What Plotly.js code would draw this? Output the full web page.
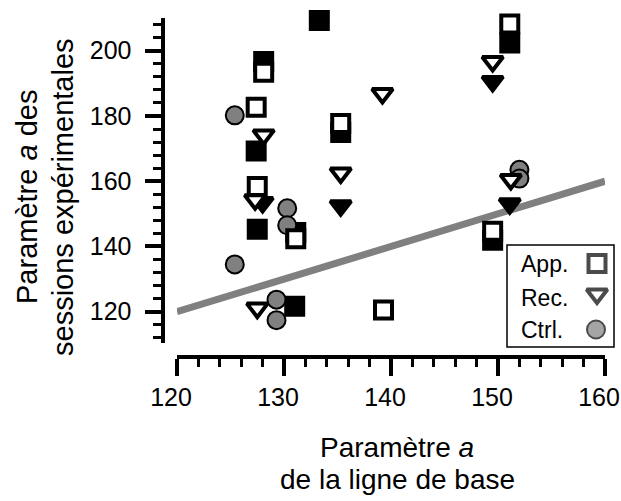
<!DOCTYPE html>
<html>
<head>
<meta charset="utf-8">
<script src="https://cdn.plot.ly/plotly-3.0.1.min.js"></script>
<style>html,body{margin:0;padding:0;background:#fff;}#chart{width:621px;height:501px;}</style>
</head>
<body>
<div id="chart"></div>
<script>
// ---- data ----
const appOpenX = [128.1, 127.4, 127.5, 131.1, 135.3, 139.3, 151.1, 149.5];
const appOpenY = [193.4, 182.7, 158.4, 142.4, 177.7, 120.5, 208.2, 144.7];
const appFillX = [128.1, 127.4, 127.5, 131.1, 131.0, 133.3, 135.3, 151.1, 149.5];
const appFillY = [196.7, 169.3, 145.3, 144.3, 121.7, 209.3, 174.9, 202.4, 141.9];
const recOpenX = [128.1, 127.3, 127.5, 139.2, 135.3, 149.5, 151.2];
const recOpenY = [174.2, 154.3, 121.1, 186.9, 162.5, 196.7, 160.5];
const recFillX = [128.0, 135.3, 149.5, 151.1];
const recFillY = [153.5, 152.5, 190.6, 153.1];
const ctrlX = [125.4, 125.4, 130.3, 130.3, 129.3, 129.3, 152.0, 152.0];
const ctrlY = [180.2, 134.5, 151.7, 146.5, 123.7, 117.4, 163.5, 160.8];
const fitX = [120, 160];
const fitY = [120, 160];
const legendLabels = ["App.", "Rec.", "Ctrl."];
const xTitle = ["Paramètre <i>a</i>", "de la ligne de base"];
const yTitle = ["Paramètre <i>a</i> des", "sessions expérimentales"];

// ---- styling / layout ----
const W = 621, H = 501;
const FONT = "Liberation Sans, Arial, sans-serif";
const LW = 4;
const TRI = 18;
const sq = (fill) => ({symbol: 'square', size: 17, color: fill, line: {color: 'black', width: LW}});
const tri = (fill) => ({symbol: 'triangle-down', size: TRI, color: fill, line: {color: 'black', width: LW}});
const circ = {symbol: 'circle', size: 18, color: '#808080', line: {color: 'black', width: 2}};

const traces = [
  {x: fitX, y: fitY, mode: 'lines', line: {color: '#808080', width: 7}, hoverinfo: 'skip'},
  {x: appFillX, y: appFillY, mode: 'markers', marker: sq('black'), cliponaxis: false},
  {x: recFillX, y: recFillY, mode: 'markers', marker: tri('black'), cliponaxis: false},
  {x: ctrlX, y: ctrlY, mode: 'markers', marker: circ, cliponaxis: false},
  {x: recOpenX, y: recOpenY, mode: 'markers', marker: tri('white'), cliponaxis: false},
  {x: appOpenX, y: appOpenY, mode: 'markers', marker: sq('white'), cliponaxis: false},
  // legend key markers (pixel space overlay)
  {x: [597, 597, 596], y: [263.5, 294, 329.5], xaxis: 'x2', yaxis: 'y2', mode: 'markers', cliponaxis: false,
   marker: {symbol: ['square', 'triangle-down', 'circle'], size: [17, TRI, 18], color: ['white', 'white', '#808080'],
            line: {color: 'black', width: [LW, LW, 2]}}}
];

const px = (v) => v / W, py = (v) => 1 - v / H;

const commonAxis = {
  showline: true, linewidth: LW, linecolor: 'black', ticks: 'outside', tickwidth: LW, tickcolor: 'black',
  showgrid: false, zeroline: false, tickfont: {family: FONT, size: 25, color: 'black'}, fixedrange: true,
  ticklabeloverflow: 'allow'
};

const annotations = [];
legendLabels.forEach((t, i) => {
  annotations.push({xref: 'x2', yref: 'y2', x: 519, y: [264, 298, 330][i], text: t, showarrow: false,
    xanchor: 'left', yanchor: 'middle', font: {family: FONT, size: 23, color: 'black'}});
});
annotations.push({xref: 'x2', yref: 'y2', x: 397, y: 447, text: xTitle[0], showarrow: false,
  xanchor: 'center', yanchor: 'middle', font: {family: FONT, size: 28, color: 'black'}});
annotations.push({xref: 'x2', yref: 'y2', x: 397, y: 479, text: xTitle[1], showarrow: false,
  xanchor: 'center', yanchor: 'middle', font: {family: FONT, size: 28, color: 'black'}});
annotations.push({xref: 'x2', yref: 'y2', x: 27, y: 197, text: yTitle[0], showarrow: false, textangle: -90,
  xanchor: 'center', yanchor: 'middle', font: {family: FONT, size: 29, color: 'black'}});
annotations.push({xref: 'x2', yref: 'y2', x: 63, y: 197, text: yTitle[1], showarrow: false, textangle: -90,
  xanchor: 'center', yanchor: 'middle', font: {family: FONT, size: 29, color: 'black'}});

const layout = {
  width: W, height: H, margin: {l: 0, r: 0, t: 0, b: 0}, showlegend: false,
  paper_bgcolor: 'white', plot_bgcolor: 'rgba(0,0,0,0)',
  font: {family: FONT, color: 'black'},
  xaxis: Object.assign({}, commonAxis, {
    domain: [px(177), px(605)], range: [120, 160], anchor: 'free', position: py(357),
    tick0: 120, dtick: 10, ticklen: 17, ticklabelstandoff: 0, ticklabelshift: -6,
    minor: {dtick: 2, ticklen: 8, tickwidth: 3, ticks: 'outside', tickcolor: 'black', showgrid: false}
  }),
  yaxis: Object.assign({}, commonAxis, {
    domain: [py(342.7), py(18.1)], range: [110.5, 210], anchor: 'free', position: px(162.5),
    tick0: 120, dtick: 20, ticklen: 16, ticklabelstandoff: 8,
    minor: {dtick: 4, ticklen: 8, tickwidth: 3, ticks: 'outside', tickcolor: 'black', showgrid: false}
  }),
  xaxis2: {domain: [0, 1], range: [0, W], anchor: 'y2', visible: false, fixedrange: true},
  yaxis2: {domain: [0, 1], range: [H, 0], anchor: 'x2', visible: false, fixedrange: true},
  shapes: [{type: 'rect', xref: 'x2', yref: 'y2', x0: 507, x1: 614, y0: 245, y1: 347,
            line: {color: 'black', width: 1.5}, fillcolor: 'rgba(0,0,0,0)', layer: 'below'}],
  annotations: annotations
};

Plotly.newPlot('chart', traces, layout, {displayModeBar: false, staticPlot: true});
</script>
</body>
</html>
